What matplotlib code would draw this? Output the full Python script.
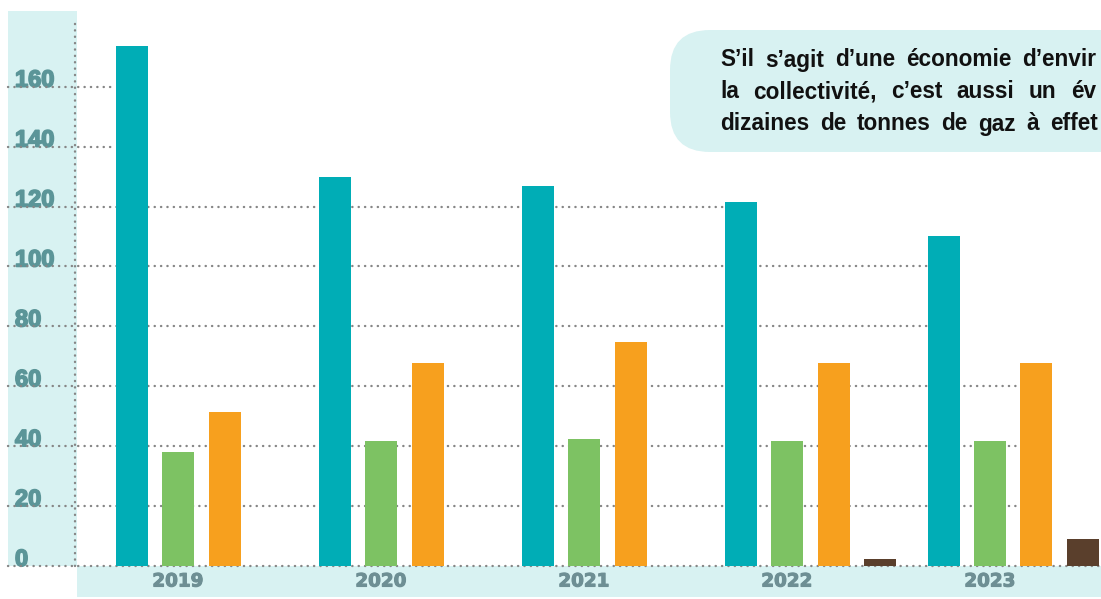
import numpy as np
import matplotlib
matplotlib.use("Agg")
import matplotlib.pyplot as plt
from matplotlib.patches import Rectangle, FancyBboxPatch
import matplotlib.patheffects as pe

# ---------------- data ----------------
years = ["2019", "2020", "2021", "2022", "2023"]
teal_values = [173.6, 129.8, 126.8, 121.5, 110.1]
green_values = [38.0, 41.7, 42.4, 41.7, 41.7]
orange_values = [51.4, 67.8, 74.8, 67.8, 67.8]
brown_values = [0.0, 0.0, 0.0, 2.3, 9.0]
y_ticks = [0, 20, 40, 60, 80, 100, 120, 140, 160]
note_lines = [
    "S\u2019il s\u2019agit d\u2019une \u00e9conomie d\u2019envir",
    "la collectivit\u00e9, c\u2019est aussi un \u00e9v",
    "dizaines de tonnes de gaz \u00e0 effet",
]

series = [teal_values, green_values, orange_values, brown_values]
colors = ["#00adb6", "#7dc263", "#f7a01e", "#5a3f2c"]

W, H = 1101, 599
fig = plt.figure(figsize=(W / 100, H / 100), dpi=100)
fig.patch.set_facecolor("white")

# background axes in pixel units
bg = fig.add_axes([0, 0, 1, 1], zorder=0)
bg.set_xlim(0, W)
bg.set_ylim(H, 0)
bg.axis("off")
band = "#d8f2f2"
bg.add_patch(Rectangle((8, 11), 69, 555, facecolor=band, edgecolor="none"))
bg.add_patch(Rectangle((77, 566), 1024, 31, facecolor=band, edgecolor="none"))
bg.add_patch(FancyBboxPatch((670, 30), 520, 122,
                            boxstyle="round,pad=0,rounding_size=40",
                            facecolor=band, edgecolor="none"))

# justified note text (word by word)
renderer = fig.canvas.get_renderer()
note_kw = dict(fontsize=16.3, fontweight="bold", color="#111111",
               family=["Liberation Sans", "DejaVu Sans"], va="baseline",
               ha="left")
line_left = 720
line_right = [1096, 1096, 1098]
for i, line in enumerate(note_lines):
    yb = 66.5 + 32 * i
    words = line.split(" ")
    objs = [bg.text(0, yb, w, **note_kw) for w in words]
    widths = [o.get_window_extent(renderer).width for o in objs]
    gap = (line_right[i] - line_left - sum(widths)) / max(len(words) - 1, 1)
    xpos = line_left
    for o, wdt in zip(objs, widths):
        o.set_x(xpos)
        xpos += wdt + gap

# main axes
px_per_unit = (566 - 86.7) / 160
ax = fig.add_axes([77 / W, (H - 566) / H, 1024 / W, 555 / H], zorder=1)
ax.patch.set_alpha(0)
ax.set_ylim(0, 555 / px_per_unit)
group_px = 203.0
ax.set_xlim((77 - 178) / group_px, (1101 - 178) / group_px)

x = np.arange(len(years))
step = 46.5 / group_px
width = 32 / group_px
bars_info = []
for k, (vals, c) in enumerate(zip(series, colors)):
    xs = x + (k - 1) * step
    ax.bar(xs, vals, width=width, color=c, zorder=3)
    for xi, v in zip(xs, vals):
        bars_info.append((xi, v))
bars_info.sort(key=lambda t: t[0])

# dotted gridlines (stop at last bar crossing them)
x0, x1 = ax.get_xlim()
grid_kw = dict(color="#868686", lw=1.7, linestyle=(0, (0.1, 2.6)),
               dash_capstyle="round", transform=ax.get_yaxis_transform(),
               clip_on=False, zorder=2)
start = (8 - 77) / 1024
for v in y_ticks:
    end = 1.0
    if v > 0:
        crossing = [b for b in bars_info if b[1] > v]
        if crossing:
            bx = crossing[-1][0] - width / 2
            end = (bx - x0) / (x1 - x0)
    ax.plot([start, end], [v, v], **grid_kw)
ax.plot([(75 - 77) / 1024] * 2, [0, (566 - 20) / 555], color="#868686",
        lw=1.7, linestyle=(0, (0.1, 2.6)), dash_capstyle="round",
        transform=ax.transAxes, clip_on=False, zorder=2)

for s in ax.spines.values():
    s.set_visible(False)

ax.set_yticks(y_ticks)
ax.set_yticklabels([str(t) for t in y_ticks])
ax.tick_params(axis="y", length=0, pad=(77 - 15) * 0.72)
ylab_color = "#5b9598"
for lbl in ax.get_yticklabels():
    lbl.set_ha("left")
    lbl.set_va("baseline")
    lbl.set_color(ylab_color)
    lbl.set_family(["Liberation Sans", "DejaVu Sans"])
    lbl.set_fontweight("bold")
    lbl.set_fontsize(17)
    lbl.set_path_effects([pe.withStroke(linewidth=1.2, foreground=ylab_color)])

ax.set_xticks(x)
ax.set_xticklabels(years)
ax.tick_params(axis="x", length=0, pad=15.5 * 0.72)
xlab_color = "#6e8f94"
for lbl in ax.get_xticklabels():
    lbl.set_va("center")
    lbl.set_fontsize(13.2)
    lbl.set_fontweight("bold")
    lbl.set_color(xlab_color)
    lbl.set_family(["DejaVu Sans"])
    lbl.set_path_effects([pe.withStroke(linewidth=0.8, foreground=xlab_color)])

fig.savefig("out.png", dpi=100)
